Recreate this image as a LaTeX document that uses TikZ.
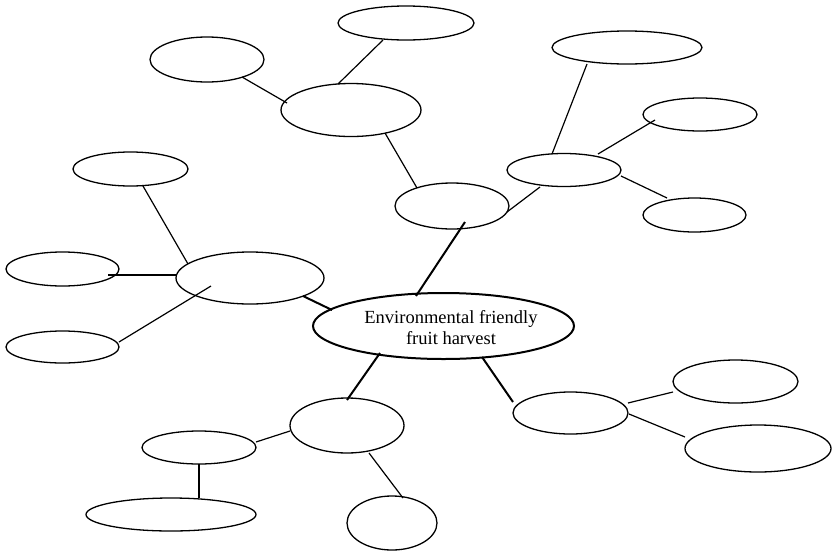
\documentclass[tikz,border=0pt]{standalone}
\usepackage{fontspec}
\setmainfont{Liberation Serif}
\usetikzlibrary{shapes.geometric}
\tikzset{
  bub/.style={draw=black, ellipse, inner sep=0pt, line width=1.3pt},
  mainbub/.style={draw=black, ellipse, inner sep=0pt, line width=2pt},
  thin/.style={line width=1.2pt},
  thick2/.style={line width=2pt},
}
\newcommand{\E}[5]{\node[bub, minimum width=#4pt, minimum height=#5pt] (#1) at (#2,#3) {};}
\begin{document}
\begin{tikzpicture}[x=1pt,y=-1pt]
\useasboundingbox (0,0) rectangle (833,555);
\E{A}{406}{23}{136}{34}
\E{B}{207}{59.5}{114}{45}
\E{C}{351}{110}{140}{53}
\E{D}{627}{47.5}{150}{33}
\E{Ee}{700}{114.5}{114}{33}
\E{F}{564}{170}{114}{33}
\E{G}{694.5}{215}{103}{34}
\E{H}{452}{206}{114}{46}
\E{I}{130.5}{169}{115}{34}
\E{J}{250}{278}{148}{52}
\E{K}{62.5}{269}{113}{34}
\E{L}{62.5}{347}{113}{32}
\node[mainbub, minimum width=261pt, minimum height=66pt] (M) at (443.5,326) {};
\node[font=\fontsize{18.5}{21}\selectfont, align=center, inner sep=0pt] (Mt) at (451,328) {Environmental friendly\\fruit harvest};
\E{N}{347}{425.5}{114}{55}
\E{O}{199}{447.5}{114}{33}
\E{P}{171}{514.5}{170}{33}
\E{Q}{392}{523}{90}{54}
\E{R}{570.5}{413}{115}{42}
\E{S}{735.5}{381.5}{125}{43}
\E{T}{758}{448.5}{146}{47}

\draw[thin] ([shift={(-23,17)}]A.center) -- ([shift={(-13,-26)}]C.center);
\draw[thin] ([shift={(35,17.5)}]B.center) -- ([shift={(-64,-7)}]C.center);
\draw[thin] ([shift={(34,23)}]C.center) -- ([shift={(-35,-18)}]H.center);
\draw[thin] ([shift={(55,6)}]H.center) -- ([shift={(-24,17)}]F.center);
\draw[thin] ([shift={(-40,16.5)}]D.center) -- ([shift={(-12,-16)}]F.center);
\draw[thin] ([shift={(34,-16)}]F.center) -- ([shift={(-45,5.5)}]Ee.center);
\draw[thin] ([shift={(57,6)}]F.center) -- ([shift={(-27.5,-17)}]G.center);
\draw[thick2] ([shift={(-27.5,-30)}]M.center) -- ([shift={(13,16)}]H.center);
\draw[thin] ([shift={(12.5,17)}]I.center) -- ([shift={(-62,-14)}]J.center);
\draw[thick2] ([shift={(45.5,6)}]K.center) -- ([shift={(-73,-3)}]J.center);
\draw[thin] ([shift={(-39,8)}]J.center) -- ([shift={(56.5,-5)}]L.center);
\draw[thick2] ([shift={(-111.5,-16)}]M.center) -- ([shift={(53,18)}]J.center);
\draw[thick2] ([shift={(-63.5,27)}]M.center) -- ([shift={(0,-25.5)}]N.center);
\draw[thick2] ([shift={(38.5,31)}]M.center) -- ([shift={(-57.5,-11)}]R.center);
\draw[thin] ([shift={(-57,5.5)}]N.center) -- ([shift={(57,-5.5)}]O.center);
\draw[thin] ([shift={(0,16.5)}]O.center) -- ([shift={(28,-16.5)}]P.center);
\draw[thin] ([shift={(22,27.5)}]N.center) -- ([shift={(11,-25)}]Q.center);
\draw[thin] ([shift={(57.5,-10)}]R.center) -- ([shift={(-62.5,10.5)}]S.center);
\draw[thin] ([shift={(58.5,1)}]R.center) -- ([shift={(-73,-11.5)}]T.center);
\end{tikzpicture}
\end{document}
